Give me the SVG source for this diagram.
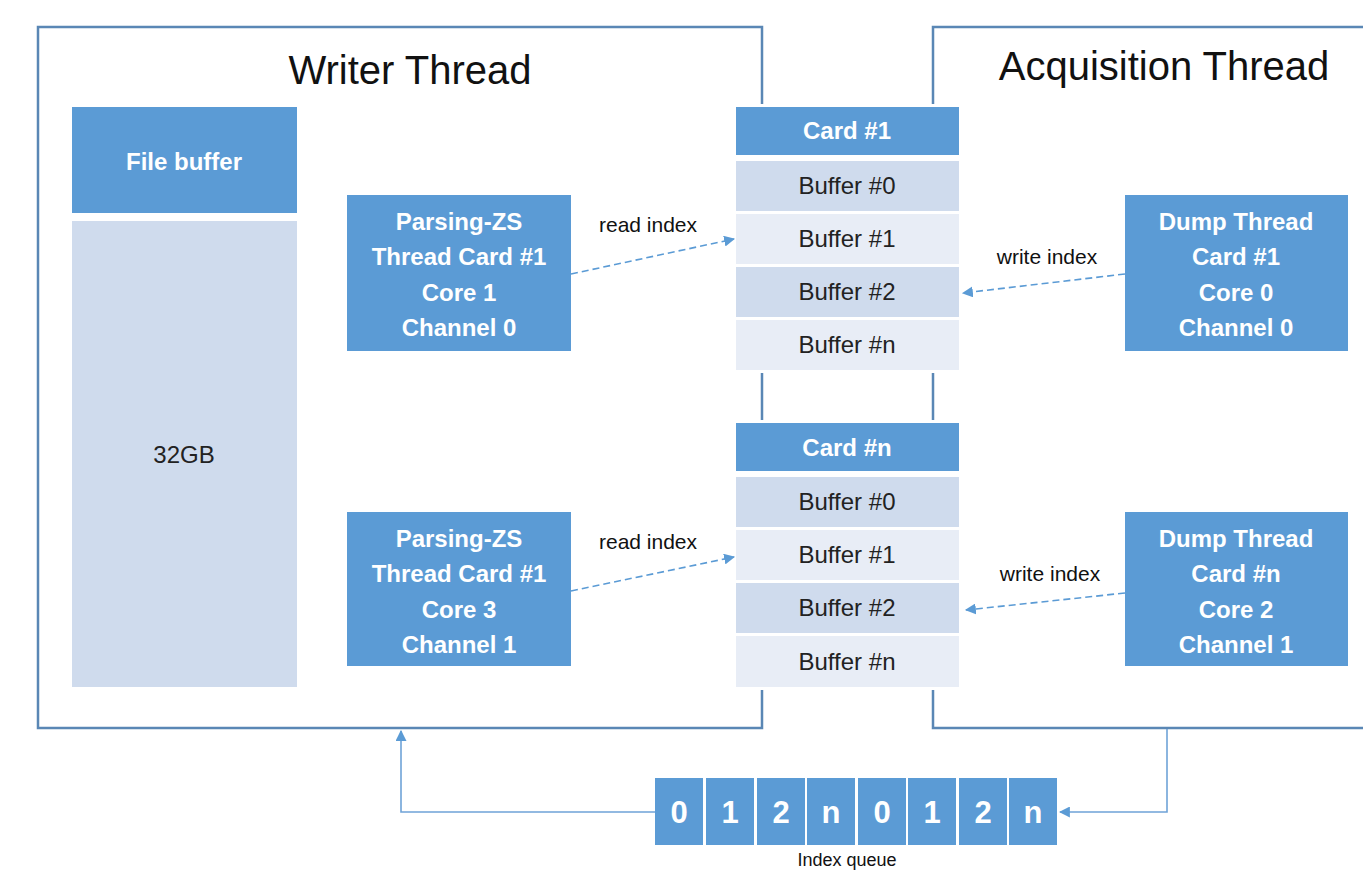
<svg xmlns="http://www.w3.org/2000/svg" width="1363" height="873" viewBox="0 0 1363 873">
<style>
.frame{fill:none;stroke:#5a87b5;stroke-width:2.5}
.blue{fill:#5b9bd5}
.dk{fill:#cfdbed}
.lt{fill:#e8edf6}
.wt{font-family:"Liberation Sans",Arial,sans-serif;font-weight:bold;font-size:24px;fill:#ffffff;text-anchor:middle}
.bt{font-family:"Liberation Sans",Arial,sans-serif;font-size:24px;fill:#222222;text-anchor:middle}
.title{font-family:"Liberation Sans",Arial,sans-serif;font-size:40px;fill:#111111;text-anchor:middle}
.lbl{font-family:"Liberation Sans",Arial,sans-serif;font-size:21px;fill:#111111;text-anchor:middle}
.q{font-family:"Liberation Sans",Arial,sans-serif;font-weight:bold;font-size:31px;fill:#ffffff;text-anchor:middle}
.dash{fill:none;stroke:#5b9bd5;stroke-width:1.6;stroke-dasharray:7 4;marker-end:url(#ah)}
.solid{fill:none;stroke:#6fa3d8;stroke-width:1.6;marker-end:url(#ah)}
</style>
<defs>
<marker id="ah" viewBox="0 0 10 10" refX="9" refY="5" markerWidth="11" markerHeight="11" markerUnits="userSpaceOnUse" orient="auto">
<path d="M0,0 L10,5 L0,10 z" fill="#5b9bd5"/>
</marker>
</defs>
<rect width="1363" height="873" fill="#ffffff"/>

<g id="writer-thread">
<rect class="frame" x="38" y="27" width="724" height="701"/>
<text class="title" x="410" y="84">Writer Thread</text>
</g>
<g id="acquisition-thread">
<path class="frame" d="M1366,27 H933 V728 H1366"/>
<text class="title" x="1164" y="80">Acquisition Thread</text>
</g>

<g id="file-buffer">
<rect class="blue" x="72" y="107" width="225" height="106"/>
<text class="wt" x="184" y="170">File buffer</text>
</g>
<g id="mem-32gb">
<rect class="dk" x="72" y="221" width="225" height="466"/>
<text class="bt" x="184" y="463">32GB</text>
</g>

<g id="parsing-1">
<rect class="blue" x="347" y="195" width="224" height="156"/>
<text class="wt" x="459" y="230">Parsing-ZS</text>
<text class="wt" x="459" y="265">Thread Card #1</text>
<text class="wt" x="459" y="301">Core 1</text>
<text class="wt" x="459" y="336">Channel 0</text>
</g>
<g id="parsing-2">
<rect class="blue" x="347" y="512" width="224" height="154"/>
<text class="wt" x="459" y="547">Parsing-ZS</text>
<text class="wt" x="459" y="582">Thread Card #1</text>
<text class="wt" x="459" y="618">Core 3</text>
<text class="wt" x="459" y="653">Channel 1</text>
</g>

<g id="dump-1">
<rect class="blue" x="1125" y="195" width="223" height="156"/>
<text class="wt" x="1236" y="230">Dump Thread</text>
<text class="wt" x="1236" y="265">Card #1</text>
<text class="wt" x="1236" y="301">Core 0</text>
<text class="wt" x="1236" y="336">Channel 0</text>
</g>
<g id="dump-2">
<rect class="blue" x="1125" y="512" width="223" height="154"/>
<text class="wt" x="1236" y="547">Dump Thread</text>
<text class="wt" x="1236" y="582">Card #n</text>
<text class="wt" x="1236" y="618">Core 2</text>
<text class="wt" x="1236" y="653">Channel 1</text>
</g>

<g id="card-1">
<rect x="733" y="104" width="229" height="269" fill="#ffffff"/>
<rect class="blue" x="736" y="107" width="223" height="48"/>
<text class="wt" x="847" y="139">Card #1</text>
<rect class="dk" x="736" y="161" width="223" height="50"/>
<text class="bt" x="847" y="194">Buffer #0</text>
<rect class="lt" x="736" y="214" width="223" height="50"/>
<text class="bt" x="847" y="247">Buffer #1</text>
<rect class="dk" x="736" y="267" width="223" height="50"/>
<text class="bt" x="847" y="300">Buffer #2</text>
<rect class="lt" x="736" y="320" width="223" height="50"/>
<text class="bt" x="847" y="353">Buffer #n</text>
</g>
<g id="card-n">
<rect x="733" y="420" width="229" height="270" fill="#ffffff"/>
<rect class="blue" x="736" y="423" width="223" height="48"/>
<text class="wt" x="847" y="456">Card #n</text>
<rect class="dk" x="736" y="477" width="223" height="50"/>
<text class="bt" x="847" y="510">Buffer #0</text>
<rect class="lt" x="736" y="530" width="223" height="50"/>
<text class="bt" x="847" y="563">Buffer #1</text>
<rect class="dk" x="736" y="583" width="223" height="50"/>
<text class="bt" x="847" y="616">Buffer #2</text>
<rect class="lt" x="736" y="636" width="223" height="51"/>
<text class="bt" x="847" y="670">Buffer #n</text>
</g>

<g id="index-queue">
<rect class="blue" x="655" y="778" width="48" height="67"/>
<rect class="blue" x="706" y="778" width="48" height="67"/>
<rect class="blue" x="757" y="778" width="48" height="67"/>
<rect class="blue" x="807" y="778" width="48" height="67"/>
<rect class="blue" x="858" y="778" width="48" height="67"/>
<rect class="blue" x="908" y="778" width="48" height="67"/>
<rect class="blue" x="959" y="778" width="48" height="67"/>
<rect class="blue" x="1009" y="778" width="48" height="67"/>
<text class="q" x="679" y="823">0</text>
<text class="q" x="730" y="823">1</text>
<text class="q" x="781" y="823">2</text>
<text class="q" x="831" y="823">n</text>
<text class="q" x="882" y="823">0</text>
<text class="q" x="932" y="823">1</text>
<text class="q" x="983" y="823">2</text>
<text class="q" x="1033" y="823">n</text>
<text class="lbl" x="847" y="866" style="font-size:18px">Index queue</text>
</g>

<g id="connectors">
<path class="dash" d="M571,274 L734,239"/>
<text class="lbl" x="648" y="232">read index</text>
<path class="dash" d="M571,591 L734,557"/>
<text class="lbl" x="648" y="549">read index</text>
<path class="dash" d="M1125,274 L963,293"/>
<text class="lbl" x="1047" y="264">write index</text>
<path class="dash" d="M1125,593 L966,610"/>
<text class="lbl" x="1050" y="581">write index</text>
<path class="solid" d="M1167,729 V812 H1060"/>
<path class="solid" d="M655,812 H401 V731"/>
</g>
</svg>
